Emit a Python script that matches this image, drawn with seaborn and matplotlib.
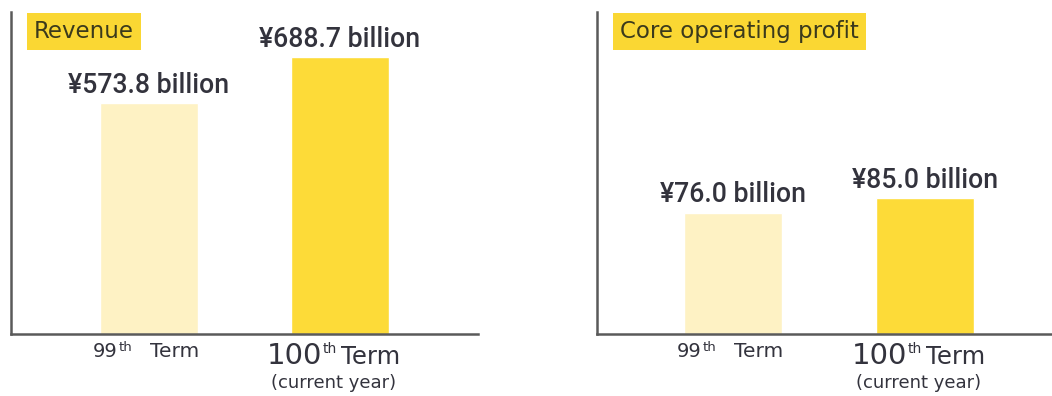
import matplotlib
matplotlib.use("Agg")
import matplotlib.pyplot as plt
from matplotlib import font_manager as fm
import seaborn as sns
import pandas as pd

# ---- data ----
terms = ["99th Term", "100th Term"]
revenue = [573.8, 688.7]
core_profit = [76.0, 85.0]
revenue_labels = ["¥573.8 billion", "¥688.7 billion"]
profit_labels = ["¥76.0 billion", "¥85.0 billion"]
panel_titles = ["Revenue", "Core operating profit"]
bar_colors = ["#FEF2C4", "#FDDB38"]

sns.set_theme(style="white")
plt.rcParams["font.family"] = ["DejaVu Sans"]

installed = {f.name for f in fm.fontManager.ttflist}
if "Liberation Sans Narrow" in installed:
    value_font, value_size = "Liberation Sans Narrow", 22
elif "DejaVu Sans Condensed" in installed:
    value_font, value_size = "DejaVu Sans Condensed", 18.2
else:
    value_font, value_size = "Roboto", 19.2

fig = plt.figure(figsize=(10.52, 3.96), dpi=100)
W, H = 1052, 396
ax_l = fig.add_axes([11 / W, 1 - 334 / H, (478 - 11) / W, (334 - 12) / H])
ax_r = fig.add_axes([597 / W, 1 - 334 / H, (1052 - 597) / W, (334 - 12) / H])

TXT = "#33333d"
SPINE = "#5a5a5a"


def draw_panel(ax, values, labels, title, xlim, ylim):
    df = pd.DataFrame({"term": terms, "value": values})
    sns.barplot(data=df, x="term", y="value", hue="term", order=terms,
                hue_order=terms, palette=dict(zip(terms, bar_colors)),
                width=0.51, legend=False, ax=ax, saturation=1)
    for cont, lab in zip(ax.containers, labels):
        ax.bar_label(cont, labels=[lab], padding=3, fontsize=value_size,
                     family=value_font, fontweight="medium", color=TXT)
    ax.set_xlim(*xlim)
    ax.set_ylim(*ylim)
    ax.set_xticks([])
    ax.set_yticks([])
    ax.set_xlabel("")
    ax.set_ylabel("")
    for s in ["top", "right"]:
        ax.spines[s].set_visible(False)
    for s in ["left", "bottom"]:
        ax.spines[s].set_color(SPINE)
        ax.spines[s].set_linewidth(1.8)

    # panel title in a yellow box
    ax.annotate(title, xy=(0, 1), xycoords="axes fraction",
                xytext=(23, -26), textcoords="offset pixels",
                ha="left", va="baseline", fontsize=16.5, color="#3b3a1c",
                bbox=dict(boxstyle="square,pad=0.32", fc="#FAD733", ec="none"))

    # custom category labels
    kw = dict(xycoords=("data", "axes fraction"), textcoords="offset pixels",
              va="baseline", color=TXT)
    # 99th Term
    ax.annotate("99", xy=(0, 0), xytext=(-56, -23), ha="left", fontsize=14, **kw)
    ax.annotate("th", xy=(0, 0), xytext=(-30, -17), ha="left", fontsize=9.5, **kw)
    ax.annotate("Term", xy=(0, 0), xytext=(1, -23), ha="left", fontsize=14.5, **kw)
    # 100th Term (current year)
    ax.annotate("100", xy=(1, 0), xytext=(-73, -30), ha="left", fontsize=21, **kw)
    ax.annotate("th", xy=(1, 0), xytext=(-17, -19), ha="left", fontsize=10, **kw)
    ax.annotate("Term", xy=(1, 0), xytext=(1, -30), ha="left", fontsize=17.5, **kw)
    ax.annotate("(current year)", xy=(1, 0), xytext=(-6, -54), ha="center",
                fontsize=13, **kw)


draw_panel(ax_l, revenue, revenue_labels, panel_titles[0],
           (-0.7225, 1.7225), (0, 800))
draw_panel(ax_r, core_profit, profit_labels, panel_titles[1],
           (-0.708, 1.661), (0, 201.5))

fig.savefig("out.png", dpi=100, facecolor="white")
